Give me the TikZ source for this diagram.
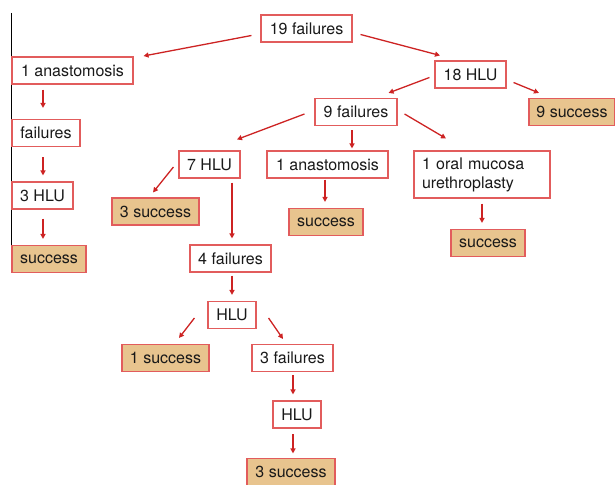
\documentclass[tikz,border=0pt]{standalone}
\usepackage{fontspec}
\setmainfont{TeX Gyre Heros}
\usetikzlibrary{arrows.meta}
\definecolor{boxred}{RGB}{226,92,92}
\definecolor{arrred}{RGB}{205,35,35}
\definecolor{tan}{RGB}{232,196,142}
\tikzset{
  x=1pt,y=1pt,
  box/.style={draw=boxred,line width=1.1pt,rectangle,inner sep=0pt,minimum height=27pt,
    font=\fontsize{16}{19}\selectfont,text=black!90},
  okbox/.style={box,fill=tan},
  arr/.style={draw=arrred,line width=1.3pt,-{Triangle[length=5pt,width=5pt]}}
}
\begin{document}
\begin{tikzpicture}
\useasboundingbox (0,0) rectangle (615,484);
\draw[black,line width=1pt] (11.7,471) -- (11.7,234);
% nodes
\node[box,minimum width=91pt] (n19) at (306.5,455.5) {19 failures};
\node[box,minimum width=121pt] (a1) at (72.5,413.5) {1 anastomosis};
\node[box,minimum width=68pt] (f1) at (46,351) {failures};
\node[box,minimum width=61pt] (h3) at (42.5,288.5) {3 HLU};
\node[okbox,minimum width=74pt] (sL) at (49,225) {success};
\node[box,minimum width=71pt] (h18) at (470.5,409.5) {18 HLU};
\node[okbox,minimum width=86pt] (s9) at (572,372) {9 success};
\node[box,minimum width=82pt] (f9) at (356,372) {9 failures};
\node[box,minimum width=61pt] (h7) at (209.5,319.5) {7 HLU};
\node[okbox,minimum width=87pt] (s3) at (155.5,272.5) {3 success};
\node[box,minimum width=121pt] (a2) at (327.5,319.5) {1 anastomosis};
\node[box,minimum width=136pt,minimum height=47pt,text width=120pt,inner xsep=8pt,align=left] (om) at (482,309.5) {1 oral mucosa\\urethroplasty};
\node[okbox,minimum width=74pt] (sM) at (326,262) {success};
\node[okbox,minimum width=74pt] (sR) at (488,241) {success};
\node[box,minimum width=81pt] (f4) at (230.5,225.5) {4 failures};
\node[box,minimum width=48pt] (hl) at (232,169) {HLU};
\node[okbox,minimum width=87pt] (s1) at (165.5,126) {1 success};
\node[box,minimum width=81pt] (f3) at (292.5,126) {3 failures};
\node[box,minimum width=48pt] (hl2) at (297,69.5) {HLU};
\node[okbox,minimum width=88pt] (s3b) at (291,12) {3 success};
% connectors
\draw[arr] ([xshift=-9pt,yshift=-7pt]n19.west) -- ([xshift=10pt,yshift=14.5pt]a1.east);
\draw[arr] ([xshift=8pt,yshift=-6pt]n19.east) -- ([xshift=-30.5pt,yshift=5pt]h18.north);
\draw[arr] ([xshift=-29.5pt,yshift=-5pt]a1.south) -- ([xshift=-3pt,yshift=11pt]f1.north);
\draw[arr] ([xshift=-3pt,yshift=-10pt]f1.south) -- ([xshift=0.5pt,yshift=6pt]h3.north);
\draw[arr] ([xshift=0.5pt,yshift=-9pt]h3.south) -- ([xshift=-6pt,yshift=6pt]sL.north);
\draw[arr] ([xshift=-5pt,yshift=-3pt]h18.west) -- ([xshift=-9pt,yshift=5pt]f9.north east);
\draw[arr] ([xshift=7pt,yshift=-8pt]h18.east) -- ([xshift=-33pt,yshift=5pt]s9.north);
\draw[arr] ([xshift=-10pt,yshift=-2pt]f9.west) -- ([xshift=27.5pt,yshift=11pt]h7.north);
\draw[arr] ([xshift=-4pt,yshift=-4pt]f9.south) -- ([xshift=24.5pt,yshift=2pt]a2.north);
\draw[arr] ([xshift=7pt,yshift=-2pt]f9.east) -- ([xshift=-36pt,yshift=12pt]om.north);
\draw[arr] ([xshift=-5pt,yshift=-2.5pt]h7.west) -- ([xshift=-2.5pt,yshift=5pt]s3.north);
\draw[arr] ([xshift=22.5pt,yshift=-4pt]h7.south) -- ([xshift=1.5pt,yshift=6pt]f4.north);
\draw[arr] ([xshift=-2.5pt,yshift=-1pt]a2.south) -- ([xshift=-1pt,yshift=6pt]sM.north);
\draw[arr] ([yshift=-5pt]om.south) -- ([xshift=-6pt,yshift=6pt]sR.north);
\draw[arr] ([xshift=1.5pt,yshift=-3pt]f4.south) -- ([yshift=6pt]hl.north);
\draw[arr] ([xshift=-13pt,yshift=-3pt]hl.west) -- ([xshift=13.5pt,yshift=6pt]s1.north);
\draw[arr] ([xshift=12pt,yshift=-3pt]hl.east) -- ([xshift=-9.5pt,yshift=5pt]f3.north);
\draw[arr] ([xshift=0.5pt,yshift=-3pt]f3.south) -- ([xshift=-4pt,yshift=6pt]hl2.north);
\draw[arr] ([xshift=-4pt,yshift=-5.5pt]hl2.south) -- ([xshift=2pt,yshift=4.5pt]s3b.north);
\end{tikzpicture}
\end{document}
